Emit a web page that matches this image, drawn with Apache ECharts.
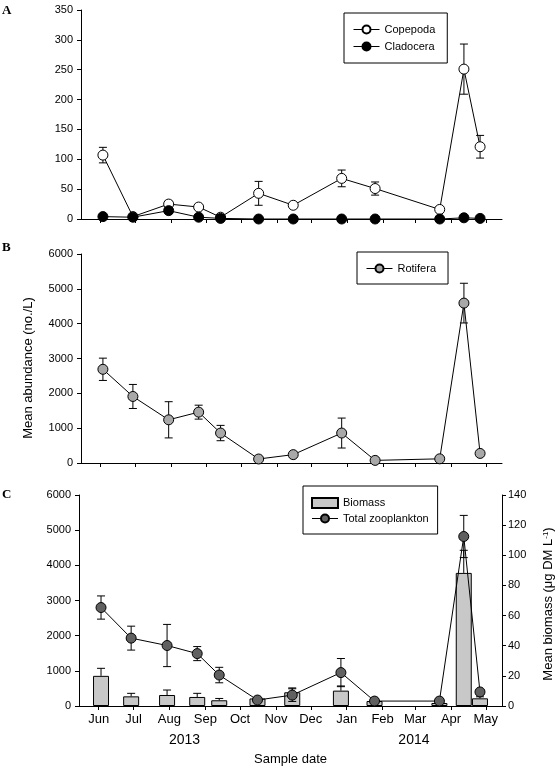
<!DOCTYPE html>
<html><head><meta charset="utf-8">
<script src="https://cdn.jsdelivr.net/npm/echarts@6/dist/echarts.min.js"></script>
<style>html,body{margin:0;padding:0;background:#fff}#c{width:559px;height:769px}</style>
</head><body><div id="c"></div>
<script>
// ---- data ----
const sampleDates = ['2013-06-03','2013-06-29','2013-07-30','2013-08-25','2013-09-13','2013-10-16','2013-11-15','2013-12-27','2014-01-25','2014-03-22','2014-04-12','2014-04-26'];
const copepoda    = [107, 4, 25, 20, 3, 43, 23, 68, 51, 16, 251, 121];
const copepodaErr = [13, 1, 5, 3, 1, 20, 4, 14, 11, 2, 42, 19];
const cladocera    = [4, 3, 14, 3, 1, 0, 0, 0, 0, 0, 2, 1];
const cladoceraErr = [1, 1, 4, 1, 0, 0, 0, 0, 0, 0, 0, 0];
const rotifera    = [2690, 1910, 1240, 1460, 860, 115, 240, 860, 75, 120, 4590, 275];
const rotiferaErr = [320, 345, 520, 200, 220, 0, 0, 430, 0, 0, 570, 0];
const totalZoo    = [2800, 1930, 1720, 1490, 880, 170, 310, 950, 140, 140, 4820, 400];
const totalZooErr = [330, 340, 600, 200, 220, 0, 180, 400, 0, 0, 600, 0];
const biomass     = [20, 6.4, 7.3, 6, 3.8, 5, 9.1, 10.2, 3.3, 2, 88.3, 5.1];
const biomassErr  = [5, 2, 3.3, 2.4, 1.2, 0, 2.9, 3.1, 0, 0, 15, 1];
const tickDates  = ['2013-06-01','2013-07-01','2013-08-01','2013-09-01','2013-10-01','2013-11-01','2013-12-01','2014-01-01','2014-02-01','2014-03-01','2014-04-01','2014-05-01'];
const tickLabels = ['Jun','Jul','Aug','Sep','Oct','Nov','Dec','Jan','Feb','Mar','Apr','May'];
const yearDates  = ['2013-08-14','2014-02-28'];
const yearLabels = ['2013','2014'];
const axisRange  = ['2013-05-15','2014-05-15'];

// ---- helpers ----
// dates -> day number (days since 2013-01-01, UTC based)
function T(s){ const p = s.split('-').map(Number); return (Date.UTC(p[0], p[1]-1, p[2]) - Date.UTC(2013,0,1)) / 86400000; }
const FONT = '"Liberation Sans", Arial, sans-serif';
const sampleT = sampleDates.map(T);
const tickT = tickDates.map(T);
const yearT = yearDates.map(T);
function pts(vals){ return vals.map((v,i)=>[sampleT[i], v]); }
function errs(vals, e, upperOnly){
  const out = [];
  vals.forEach((v,i)=>{ if (e[i] > 0) out.push([sampleT[i], upperOnly ? v : v - e[i], v + e[i]]); });
  return out;
}
function nearestLabel(v, times, labels){
  let best = 0, bd = Infinity;
  times.forEach((t,i)=>{ const d = Math.abs(t - v); if (d < bd){ bd = d; best = i; } });
  return labels[best];
}
function errSeries(name, data, xi, yi, upperOnly){
  return {
    type:'custom', name: name, xAxisIndex:xi, yAxisIndex:yi, z:1, silent:true,
    encode:{x:0, y:[1,2]}, data: data,
    renderItem: function(params, api){
      const x = api.value(0), lo = api.value(1), hi = api.value(2);
      const a = api.coord([x, hi]), b = api.coord([x, lo]);
      const w = 4, st = {stroke:'#000', lineWidth:1};
      const ch = [
        {type:'line', shape:{x1:a[0], y1:a[1], x2:b[0], y2:b[1]}, style:st},
        {type:'line', shape:{x1:a[0]-w, y1:a[1], x2:a[0]+w, y2:a[1]}, style:st}
      ];
      if (!upperOnly) ch.push({type:'line', shape:{x1:b[0]-w, y1:b[1], x2:b[0]+w, y2:b[1]}, style:st});
      return {type:'group', children:ch};
    }
  };
}
function xAxisBase(gi, showLabels){
  return {
    type:'value', gridIndex:gi, min:T(axisRange[0]), max:T(axisRange[1]),
    axisLine:{show:true, onZero:false, lineStyle:{color:'#000', width:1}},
    axisTick:{show:true, length:4, inside:false, customValues:tickT, lineStyle:{color:'#000'}},
    axisLabel:{show:showLabels, customValues:tickT, margin:7, fontSize:13, color:'#000', fontFamily:FONT,
      formatter:(v)=>nearestLabel(v, tickT, tickLabels)},
    splitLine:{show:false}, minorTick:{show:false}
  };
}
function yAxisBase(gi, max, interval, pos, margin){
  return {
    type:'value', gridIndex:gi, min:0, max:max, interval:interval, position:pos,
    axisLine:{show:true, onZero:false, lineStyle:{color:'#000', width:1}},
    axisTick:{show:true, length:4, inside:false, lineStyle:{color:'#000'}},
    axisLabel:{margin:margin, fontSize:11, color:'#000', fontFamily:FONT, formatter:(v)=>String(v)},
    splitLine:{show:false}
  };
}
function lineSeries(name, vals, xi, yi, fill){
  return {
    type:'line', name:name, xAxisIndex:xi, yAxisIndex:yi, z:3, data:pts(vals),
    symbol:'circle', symbolSize:10, showSymbol:true,
    lineStyle:{color:'#000', width:1},
    itemStyle:{color:fill, borderColor:'#000', borderWidth:1}
  };
}
const legendCommon = {
  orient:'vertical', itemWidth:26, itemHeight:10, borderColor:'#000', borderWidth:1, borderRadius:0,
  lineStyle:{width:1, color:'#000'},
  textStyle:{fontSize:11, color:'#000', fontFamily:FONT}, selectedMode:false
};

const option = {
  animation:false,
  backgroundColor:'#fff',
  grid:[
    {left:81, top:10, width:421, height:209},
    {left:81, top:254, width:421, height:209},
    {left:79, top:495, width:423, height:211}
  ],
  xAxis:[
    xAxisBase(0,false),
    xAxisBase(1,false),
    Object.assign(xAxisBase(2,true), {name:'Sample date', nameLocation:'middle', nameGap:47,
      nameTextStyle:{fontSize:13, color:'#000', fontFamily:FONT}}),
    {type:'value', gridIndex:2, min:T(axisRange[0]), max:T(axisRange[1]), position:'bottom',
      axisLine:{show:false}, axisTick:{show:false}, splitLine:{show:false},
      axisLabel:{customValues:yearT, margin:27, fontSize:14, color:'#000', fontFamily:FONT,
        formatter:(v)=>nearestLabel(v, yearT, yearLabels)}}
  ],
  yAxis:[
    yAxisBase(0,350,50,'left',8),
    yAxisBase(1,6000,1000,'left',8),
    yAxisBase(2,6000,1000,'left',8),
    yAxisBase(2,140,20,'right',6)
  ],
  legend:[
    Object.assign({}, legendCommon, {left:344, top:13, itemGap:6, padding:[11,12,11,9], data:['Copepoda','Cladocera']}),
    Object.assign({}, legendCommon, {left:357, top:252, itemGap:6, padding:[11,12,10,9], data:['Rotifera']}),
    Object.assign({}, legendCommon, {left:303, top:486, itemGap:4, padding:[11,9,10,8],
      data:[{name:'Biomass', icon:'rect'}, 'Total zooplankton']})
  ],
  graphic:[
    {type:'text', left:2, top:4, style:{text:'A', font:'bold 13px "Liberation Serif", serif', fill:'#000'}},
    {type:'text', left:2, top:241, style:{text:'B', font:'bold 13px "Liberation Serif", serif', fill:'#000'}},
    {type:'text', left:2, top:488, style:{text:'C', font:'bold 13px "Liberation Serif", serif', fill:'#000'}},
    {type:'text', x:28, y:368, rotation:Math.PI/2,
      style:{text:'Mean abundance (no./L)', font:'13px "Liberation Sans", Arial, sans-serif', fill:'#000', align:'center', verticalAlign:'middle'}},
    {type:'text', x:548, y:604, rotation:Math.PI/2,
      style:{text:'Mean biomass (μg DM L{sup|-1})', font:'13px "Liberation Sans", Arial, sans-serif', fill:'#000', align:'center', verticalAlign:'middle',
        rich:{sup:{fontSize:8, verticalAlign:'top', fontFamily:FONT, fill:'#000'}}}}
  ],
  series:[
    errSeries('copErr', errs(copepoda, copepodaErr), 0, 0),
    errSeries('claErr', errs(cladocera, cladoceraErr), 0, 0),
    lineSeries('Copepoda', copepoda, 0, 0, '#fff'),
    Object.assign(lineSeries('Cladocera', cladocera, 0, 0, '#000'), {z:4}),
    errSeries('rotErr', errs(rotifera, rotiferaErr), 1, 1),
    lineSeries('Rotifera', rotifera, 1, 1, '#a8a8a8'),
    {type:'bar', name:'Biomass', xAxisIndex:2, yAxisIndex:3, barWidth:16, z:0, data:pts(biomass),
      itemStyle:{color:'#c8c8c8', borderColor:'#000', borderWidth:1}},
    errSeries('bioErr', errs(biomass, biomassErr, true), 2, 3, true),
    errSeries('totErr', errs(totalZoo, totalZooErr), 2, 2),
    lineSeries('Total zooplankton', totalZoo, 2, 2, '#606060')
  ]
};
const chart = echarts.init(document.getElementById('c'), null, {renderer:'canvas'});
chart.setOption(option);
</script>
</body></html>
